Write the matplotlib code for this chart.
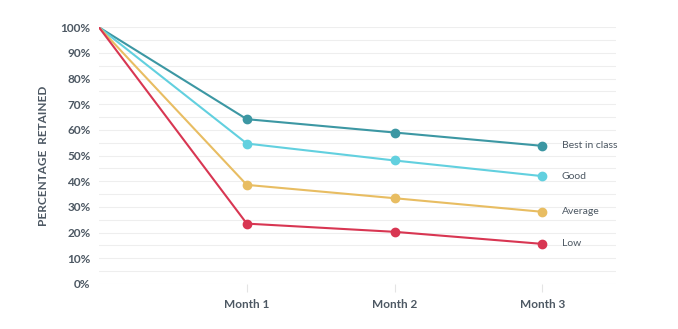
import matplotlib.pyplot as plt
import numpy as np

plt.rcParams['font.family'] = ['Lato', 'DejaVu Sans']

# x positions: start point (unlabelled) + three months
months = ['', 'Month 1', 'Month 2', 'Month 3']
series_names = ['Best in class', 'Good', 'Average', 'Low']
best = [100, 64.2, 59.0, 53.8]
good = [100, 54.7, 48.1, 42.0]
average = [100, 38.6, 33.4, 28.1]
low = [100, 23.5, 20.3, 15.6]
colors = ['#3c97a3', '#62d0df', '#e8bd62', '#d83652']

text_color = '#4d5863'

fig = plt.figure(figsize=(6.78, 3.29), dpi=100)
ax = fig.add_axes([0.146, 0.137, 0.763, 0.78])

x = np.arange(len(months))
for name, vals, c in zip(series_names, [best, good, average, low], colors):
    ax.plot(x, vals, color=c, lw=1.5, zorder=3)
    ax.plot(x[1:], vals[1:], 'o', color=c, ms=6, zorder=4)
    ax.annotate(name, (x[-1], vals[-1]), xytext=(14, 0), textcoords='offset points',
                va='center', ha='left', fontsize=7.5, color=text_color)

ax.set_xlim(0, 3.5)
ax.set_ylim(0, 100)
ax.set_yticks(np.arange(0, 101, 10))
ax.set_yticks(np.arange(5, 100, 10), minor=True)
ax.set_yticklabels([f'{v}%' for v in range(0, 101, 10)])
ax.grid(axis='y', which='both', color='#eeeeee', lw=0.8, zorder=0)
ax.set_xticks(x[1:])
ax.set_xticklabels(months[1:])

for s in ax.spines.values():
    s.set_visible(False)
ax.tick_params(axis='y', which='both', length=0, pad=6, labelsize=8.5, labelcolor=text_color)
ax.tick_params(axis='x', length=6, color='#e4e4e4', pad=5, labelsize=8.5, labelcolor=text_color)
for lab in ax.get_xticklabels() + ax.get_yticklabels():
    lab.set_fontweight('bold')

ax.set_ylabel('PERCENTAGE  RETAINED', fontsize=8.5, fontweight='bold', color=text_color, labelpad=8)

fig.savefig('out.png')
